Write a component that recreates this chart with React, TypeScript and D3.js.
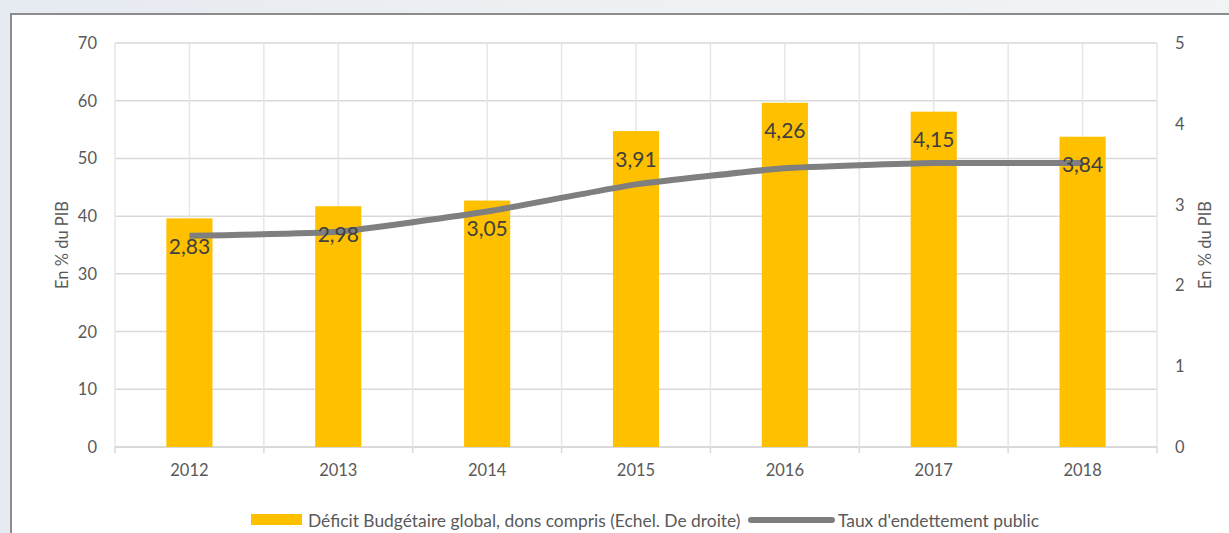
import React from "react";
import * as d3 from "d3";

const years = ["2012", "2013", "2014", "2015", "2016", "2017", "2018"];
const deficit = [2.83, 2.98, 3.05, 3.91, 4.26, 4.15, 3.84];
const deficitLabels = ["2,83", "2,98", "3,05", "3,91", "4,26", "4,15", "3,84"];
const debt = [36.6, 37.3, 40.8, 45.5, 48.3, 49.2, 49.2];
const leftTicks = [0, 10, 20, 30, 40, 50, 60, 70];
const rightTicks = [0, 1, 2, 3, 4, 5];
const legendBar = "Déficit Budgétaire global, dons compris (Echel. De droite)";
const legendLine = "Taux d'endettement public";
const axisTitle = "En % du PIB";

const W = 1229;
const H = 533;
const FONT = "Lato, 'Open Sans', sans-serif";

export default function App() {
  const x0 = 115, x1 = 1157, yTop = 43, yBot = 447;
  const x = d3.scaleBand<string>().domain(years).range([x0, x1]);
  const yL = d3.scaleLinear().domain([0, 70]).range([yBot, yTop]);
  const yR = d3.scaleLinear().domain([0, 5]).range([yBot, yTop]);
  const step = x.bandwidth();
  const barW = step * 0.31;
  const cx = (d: string) => (x(d) as number) + step / 2;

  const line = d3
    .line<number>()
    .x((_, i) => cx(years[i]))
    .y((d) => yL(d))
    .curve(d3.curveCardinal.tension(0.6));

  const vgrid: number[] = [];
  for (let i = 0; i <= years.length * 2; i++) vgrid.push(x0 + (i * step) / 2);
  const tickXs: number[] = [];
  for (let i = 0; i <= years.length; i++) tickXs.push(x0 + i * step);

  const grid = "#d9d9d9";
  const text = "#595959";

  return (
    <svg
      width={W}
      height={H}
      style={{ position: "absolute", left: 0, top: 0 }}
      fontFamily={FONT}
    >
      <defs>
        <linearGradient id="bg" x1="0" y1="0" x2="1" y2="0">
          <stop offset="0" stopColor="#e6eaf1" />
          <stop offset="0.5" stopColor="#edf1f3" />
          <stop offset="1" stopColor="#f1f3f5" />
        </linearGradient>
      </defs>
      <rect x={0} y={0} width={W} height={H} fill="url(#bg)" />
      <rect x={11} y={14} width={W + 20} height={H + 20} fill="#ffffff" stroke="#8c8c8c" strokeWidth={2} />

      {leftTicks.map((t) => (
        <line key={"h" + t} x1={x0} x2={x1} y1={yL(t)} y2={yL(t)} stroke={grid} strokeWidth={t === 0 ? 2 : 1.5} />
      ))}
      {vgrid.map((v, i) => (
        <line key={"v" + i} x1={v} x2={v} y1={yTop} y2={yBot} stroke="#e6e6e6" strokeWidth={1.5} />
      ))}
      {tickXs.map((v, i) => (
        <line key={"t" + i} x1={v} x2={v} y1={yBot} y2={yBot + 6} stroke={grid} strokeWidth={1.5} />
      ))}

      {deficit.map((v, i) => (
        <rect key={"b" + i} x={cx(years[i]) - barW / 2} y={yR(v)} width={barW} height={yR(0) - yR(v)} fill="#ffc000" />
      ))}

      <path d={line(debt) || ""} fill="none" stroke="#7f7f7f" strokeWidth={6} strokeLinejoin="round" />

      {deficit.map((v, i) => (
        <text key={"l" + i} x={cx(years[i])} y={yR(v) + 27} textAnchor="middle" dominantBaseline="central" fontSize={21} fill="#404040">
          {deficitLabels[i]}
        </text>
      ))}

      {leftTicks.map((t) => (
        <text key={"lt" + t} x={97} y={yL(t)} textAnchor="end" dominantBaseline="central" fontSize={16.5} fill={text}>
          {t}
        </text>
      ))}
      {rightTicks.map((t) => (
        <text key={"rt" + t} x={1175} y={yR(t)} textAnchor="start" dominantBaseline="central" fontSize={16.5} fill={text}>
          {t}
        </text>
      ))}
      {years.map((y) => (
        <text key={"x" + y} x={cx(y)} y={470} textAnchor="middle" dominantBaseline="central" fontSize={16.5} fill={text}>
          {y}
        </text>
      ))}

      <text transform={`translate(62,${(yTop + yBot) / 2}) rotate(-90)`} textAnchor="middle" dominantBaseline="central" fontSize={16.5} fill={text}>
        {axisTitle}
      </text>
      <text transform={`translate(1205,${(yTop + yBot) / 2}) rotate(-90)`} textAnchor="middle" dominantBaseline="central" fontSize={16.5} fill={text}>
        {axisTitle}
      </text>

      <rect x={251} y={514} width={51} height={11} fill="#ffc000" />
      <text x={308} y={520} dominantBaseline="central" fontSize={17.4} fill={text}>
        {legendBar}
      </text>
      <line x1={751} x2={832} y1={520} y2={520} stroke="#7f7f7f" strokeWidth={6} strokeLinecap="round" />
      <text x={838} y={520} dominantBaseline="central" fontSize={17.4} fill={text}>
        {legendLine}
      </text>
    </svg>
  );
}
